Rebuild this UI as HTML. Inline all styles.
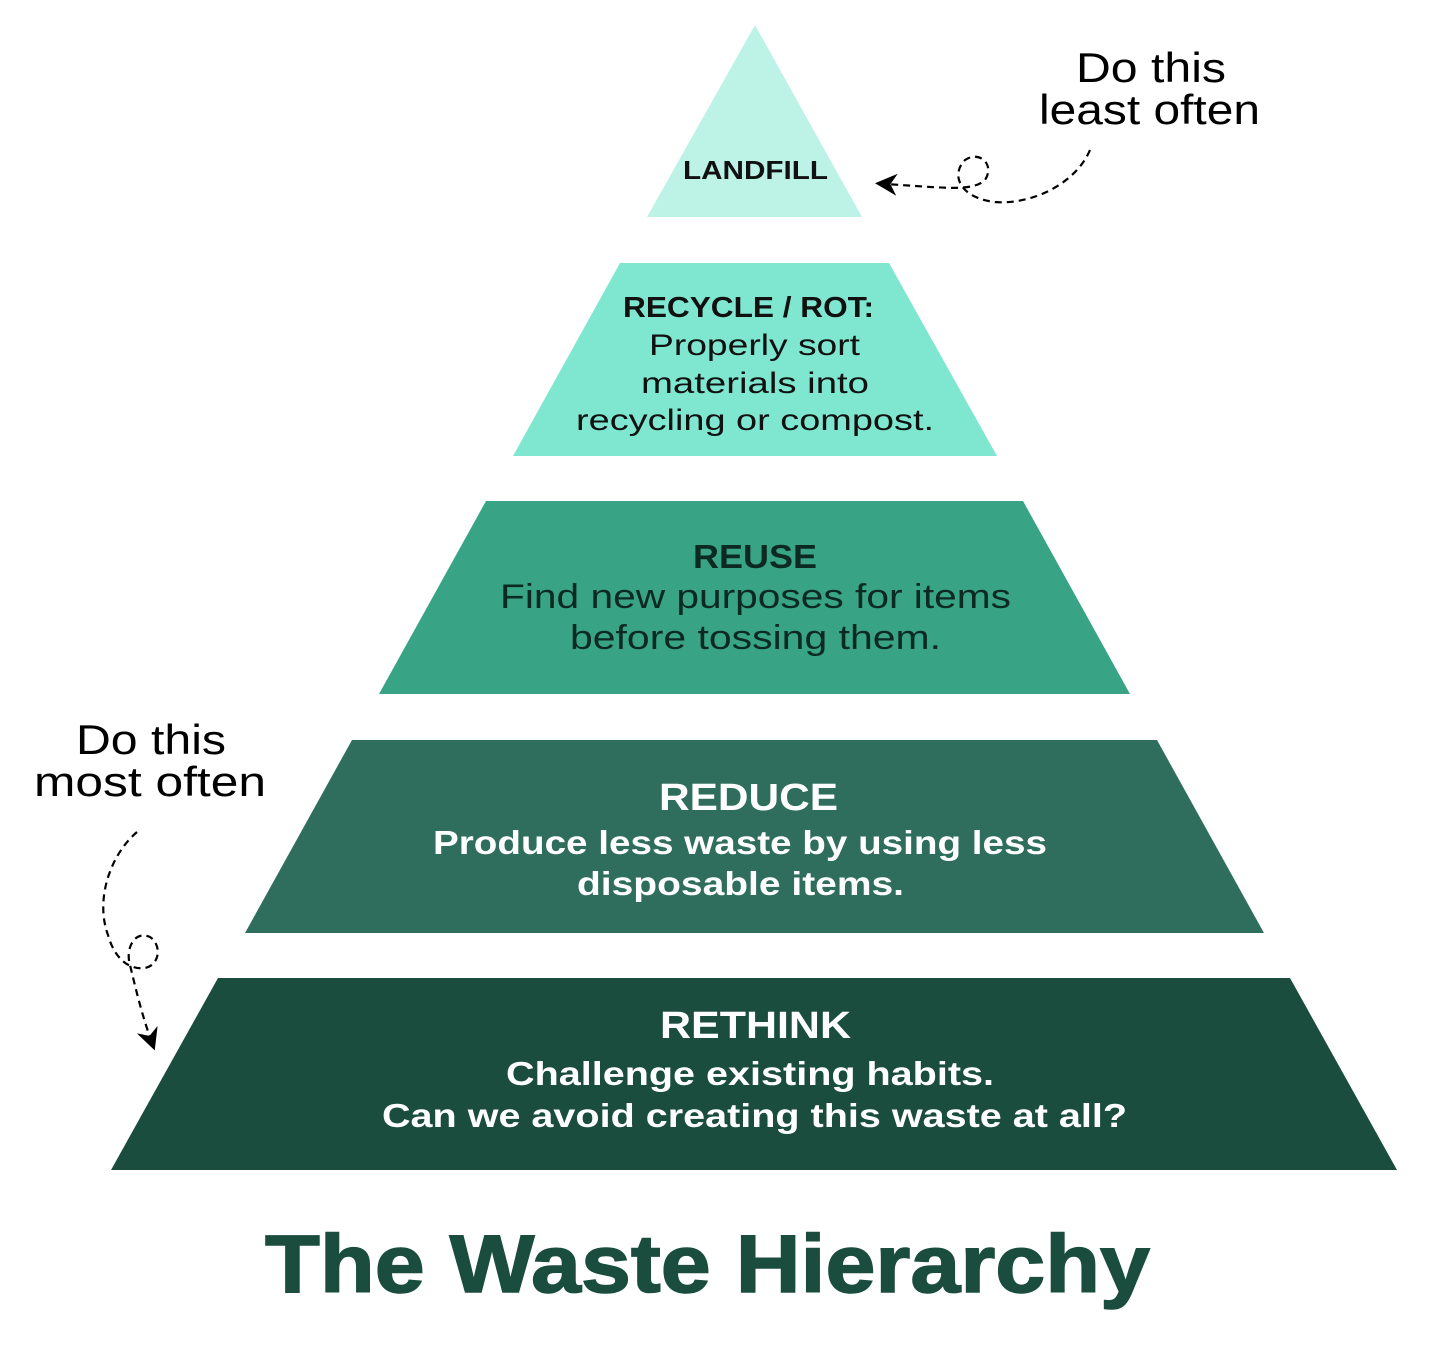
<!DOCTYPE html>
<html><head><meta charset="utf-8"><style>
html,body{margin:0;padding:0;background:#fff;width:1445px;height:1346px;overflow:hidden}
text{font-family:"Liberation Sans",sans-serif}
</style></head><body>
<svg width="1445" height="1346" viewBox="0 0 1445 1346" xmlns="http://www.w3.org/2000/svg">
<defs><marker id="ah" viewBox="0 0 10 10" refX="5" refY="5" markerWidth="10" markerHeight="10" markerUnits="userSpaceOnUse" orient="auto-start-reverse"><path d="M0,0 L10,5 L0,10 L3,5 z" fill="#000"/></marker>
<marker id="ah2" viewBox="0 0 10 10" refX="5" refY="5" markerWidth="22" markerHeight="22" markerUnits="userSpaceOnUse" orient="auto-start-reverse"><path d="M0,0 L10,5 L0,10 L3,5 z" fill="#000"/></marker></defs>
<polygon points="755,25 862,217 647,217" fill="#bdf2e6"/>
<polygon points="620,263 889,263 997,456 513,456" fill="#7fe6d0"/>
<polygon points="486,501 1023,501 1130,694 379,694" fill="#38a385"/>
<polygon points="352,740 1157,740 1264,933 245,933" fill="#2f6e5c"/>
<polygon points="218,978 1290,978 1397,1170 111,1170" fill="#1a4d3e"/>

<g>
<text x="683" y="179" font-size="26" font-weight="bold" textLength="145" lengthAdjust="spacingAndGlyphs" fill="#111">LANDFILL</text>
<text x="623" y="317" font-size="29" font-weight="bold" textLength="251" lengthAdjust="spacingAndGlyphs" fill="#111">RECYCLE / ROT:</text>
<text x="649" y="355" font-size="30" textLength="211" lengthAdjust="spacingAndGlyphs" fill="#111">Properly sort</text>
<text x="641" y="393" font-size="30" textLength="228" lengthAdjust="spacingAndGlyphs" fill="#111">materials into</text>
<text x="576" y="430" font-size="30" textLength="358" lengthAdjust="spacingAndGlyphs" fill="#111">recycling or compost.</text>
<text x="693" y="568" font-size="33" font-weight="bold" textLength="124" lengthAdjust="spacingAndGlyphs" fill="#0d2a22">REUSE</text>
<text x="500" y="608" font-size="34" textLength="511" lengthAdjust="spacingAndGlyphs" fill="#0d2a22">Find new purposes for items</text>
<text x="570" y="649" font-size="34" textLength="371" lengthAdjust="spacingAndGlyphs" fill="#0d2a22">before tossing them.</text>
<text x="659" y="810" font-size="38" font-weight="bold" textLength="179" lengthAdjust="spacingAndGlyphs" fill="#fff">REDUCE</text>
<text x="433" y="854" font-size="33" font-weight="bold" textLength="614" lengthAdjust="spacingAndGlyphs" fill="#fff">Produce less waste by using less</text>
<text x="577" y="895" font-size="33" font-weight="bold" textLength="327" lengthAdjust="spacingAndGlyphs" fill="#fff">disposable items.</text>
<text x="660" y="1038" font-size="38" font-weight="bold" textLength="191" lengthAdjust="spacingAndGlyphs" fill="#fff">RETHINK</text>
<text x="506" y="1085" font-size="33" font-weight="bold" textLength="488" lengthAdjust="spacingAndGlyphs" fill="#fff">Challenge existing habits.</text>
<text x="382" y="1127" font-size="33" font-weight="bold" textLength="745" lengthAdjust="spacingAndGlyphs" fill="#fff">Can we avoid creating this waste at all?</text>
<text x="265" y="1292" font-size="82" font-weight="bold" textLength="885" lengthAdjust="spacingAndGlyphs" fill="#1a4d3e" stroke="#1a4d3e" stroke-width="1.5">The Waste Hierarchy</text>
<text x="1076" y="82" font-size="42" textLength="150" lengthAdjust="spacingAndGlyphs" fill="#000">Do this</text>
<text x="1039" y="124" font-size="42" textLength="221" lengthAdjust="spacingAndGlyphs" fill="#000">least often</text>
<text x="76" y="754" font-size="42" textLength="150" lengthAdjust="spacingAndGlyphs" fill="#000">Do this</text>
<text x="34" y="796" font-size="42" textLength="232" lengthAdjust="spacingAndGlyphs" fill="#000">most often</text>
</g>
<path d="M1090,150 C1075,185 1030,205 995,202 C960,198 950,175 965,160 C980,150 995,165 985,180 C975,190 950,188 930,187 L886,184" fill="none" stroke="#000" stroke-width="2.2" stroke-dasharray="7,5" marker-end="url(#ah2)"/>
<path d="M137,832 C110,855 95,900 108,935 C115,960 130,970 145,968 C160,965 162,945 150,937 C135,930 125,948 130,965 C136,990 142,1015 151,1040" fill="none" stroke="#000" stroke-width="2.2" stroke-dasharray="7,5" marker-end="url(#ah2)"/>
</svg>
</body></html>
